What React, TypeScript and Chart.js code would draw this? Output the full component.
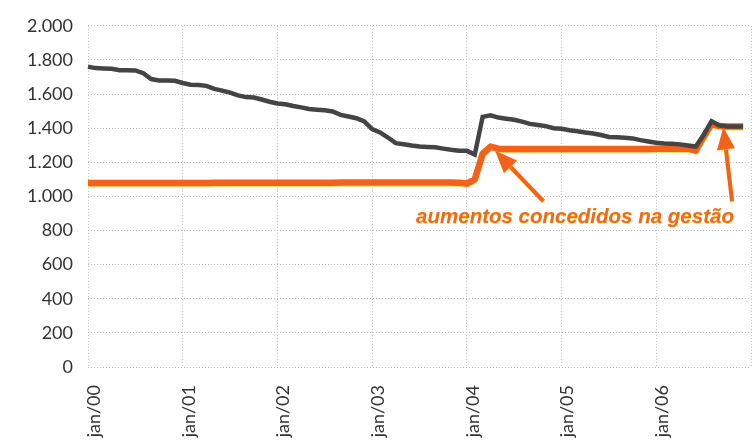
import { useEffect, useRef } from 'react';
import { Chart, registerables } from 'chart.js';

Chart.register(...registerables);

const MONTHS = ['jan', 'fev', 'mar', 'abr', 'mai', 'jun', 'jul', 'ago', 'set', 'out', 'nov', 'dez'];
const YEARS = ['00', '01', '02', '03', '04', '05', '06'];
const CATEGORIES: string[] = [...YEARS.flatMap((yy) => MONTHS.map((m) => `${m}/${yy}`)), 'jan/07'];

const Y_TICKS = [0, 200, 400, 600, 800, 1000, 1200, 1400, 1600, 1800, 2000];

const GRAY_SERIES: (number | null)[] = [
  1760, 1752, 1750, 1748, 1740, 1740, 1738, 1722, 1688, 1680, 1680, 1678,
  1665, 1655, 1653, 1648, 1630, 1620, 1608, 1592, 1582, 1580, 1568, 1555,
  1545, 1540, 1530, 1522, 1512, 1508, 1505, 1498, 1478, 1468, 1458, 1440,
  1395, 1375, 1345, 1312, 1306, 1298, 1292, 1290, 1288, 1280, 1273, 1268,
  1267, 1245, 1466, 1475, 1462, 1455, 1449, 1438, 1425, 1418, 1412, 1400,
  1396, 1388, 1382, 1375, 1369, 1360, 1348, 1346, 1344, 1340, 1330, 1322,
  1315, 1310, 1308, 1305, 1298, 1292, 1360, 1440, 1415, 1410, 1410, 1410,
  null,
];

const ORANGE_SERIES: (number | null)[] = [
  1078, 1078, 1078, 1078, 1078, 1078, 1078, 1078, 1078, 1078, 1078, 1078,
  1079, 1079, 1079, 1079, 1080, 1080, 1080, 1080, 1080, 1080, 1080, 1080,
  1080, 1080, 1080, 1080, 1080, 1080, 1080, 1080, 1081, 1081, 1081, 1081,
  1082, 1082, 1082, 1082, 1082, 1082, 1082, 1082, 1082, 1082, 1082, 1080,
  1075, 1100, 1250, 1292, 1280, 1278, 1278, 1278, 1278, 1278, 1278, 1278,
  1278, 1278, 1278, 1278, 1278, 1278, 1278, 1278, 1278, 1278, 1278, 1278,
  1279, 1279, 1279, 1280, 1280, 1268, 1350, 1425, 1412, 1410, 1410, 1410,
  null,
];

// annotation, in data units: [category index, value]
const NOTE_TEXT = 'aumentos concedidos na gestão';
const NOTE_ANCHOR: [number, number] = [61.7, 842];
const ARROWS: { from: [number, number]; to: [number, number] }[] = [
  { from: [57.7, 972], to: [51.6, 1267] },
  { from: [81.6, 972], to: [80.5, 1405] },
];

const ORANGE = '#f2621a';
const GRAY = '#444444';

const fmt = (v: number) => String(v).replace(/\B(?=(\d{3})+(?!\d))/g, '.');

const shadowPlugin = {
  id: 'orangeGlow',
  beforeDatasetDraw(chart: any, args: any) {
    if (args.index === 1) {
      const ctx = chart.ctx;
      ctx.save();
      ctx.shadowColor = 'rgba(255, 200, 0, 0.55)';
      ctx.shadowOffsetY = 1;
      ctx.shadowOffsetX = 0;
      ctx.shadowBlur = 0;
    }
  },
  afterDatasetDraw(chart: any, args: any) {
    if (args.index === 1) chart.ctx.restore();
  },
};

const notePlugin = {
  id: 'notes',
  afterDatasetsDraw(chart: any) {
    const { ctx, scales } = chart;
    const x = scales.x;
    const y = scales.y;
    ctx.save();
    ctx.shadowColor = 'rgba(255, 200, 0, 0.6)';
    ctx.shadowOffsetY = 1;
    ctx.shadowBlur = 0;
    ctx.strokeStyle = ORANGE;
    ctx.fillStyle = ORANGE;
    ctx.lineWidth = 4;
    ctx.lineCap = 'butt';
    for (const a of ARROWS) {
      const tx = x.getPixelForValue(a.from[0]);
      const ty = y.getPixelForValue(a.from[1]);
      const hx = x.getPixelForValue(a.to[0]);
      const hy = y.getPixelForValue(a.to[1]);
      const ang = Math.atan2(hy - ty, hx - tx);
      const headLen = 22;
      const headHalf = 9;
      const bx = hx - headLen * Math.cos(ang);
      const by = hy - headLen * Math.sin(ang);
      ctx.beginPath();
      ctx.moveTo(tx, ty);
      ctx.lineTo(bx + 4 * Math.cos(ang), by + 4 * Math.sin(ang));
      ctx.stroke();
      ctx.beginPath();
      ctx.moveTo(hx, hy);
      ctx.lineTo(bx - headHalf * Math.sin(ang), by + headHalf * Math.cos(ang));
      ctx.lineTo(bx + headHalf * Math.sin(ang), by - headHalf * Math.cos(ang));
      ctx.closePath();
      ctx.fill();
    }
    ctx.font = 'italic bold 20.5px "Liberation Sans", Arial, sans-serif';
    ctx.textAlign = 'center';
    ctx.textBaseline = 'alphabetic';
    ctx.fillStyle = '#ee6a1e';
    ctx.fillText(NOTE_TEXT, x.getPixelForValue(NOTE_ANCHOR[0]), y.getPixelForValue(NOTE_ANCHOR[1]));
    ctx.restore();
  },
};

export default function App() {
  const canvasRef = useRef<HTMLCanvasElement | null>(null);

  useEffect(() => {
    document.body.style.margin = '0';
    const canvas = canvasRef.current;
    if (!canvas) return;
    const gridColor = '#bdbdbd';
    const chart = new Chart(canvas, {
      type: 'line',
      data: {
        labels: CATEGORIES,
        datasets: [
          {
            data: GRAY_SERIES,
            borderColor: GRAY,
            borderWidth: 4.5,
            pointRadius: 0,
            tension: 0,
          },
          {
            data: ORANGE_SERIES,
            borderColor: ORANGE,
            borderWidth: 6.5,
            pointRadius: 0,
            tension: 0,
            borderJoinStyle: 'round',
          },
        ],
      },
      options: {
        animation: false,
        responsive: true,
        maintainAspectRatio: false,
        layout: { padding: { top: 16, right: 3, left: 0, bottom: 0 } },
        plugins: { legend: { display: false }, tooltip: { enabled: false } },
        scales: {
          x: {
            type: 'category',
            afterFit: (s: any) => {
              s.height = 73;
              s.paddingLeft = 0;
              s.paddingRight = 0;
            },
            grid: {
              drawTicks: false,
              color: (c: any) => (c.index % 12 === 0 ? gridColor : 'rgba(0,0,0,0)'),
              lineWidth: 1,
            },
            border: { display: false, dash: [1, 2] },
            ticks: {
              autoSkip: false,
              maxRotation: 90,
              minRotation: 90,
              padding: 18,
              labelOffset: 6,
              color: '#333333',
              font: { family: 'Lato, "DejaVu Sans", sans-serif', size: 18 },
              callback: (_v: any, i: number) => (i % 12 === 0 && i < CATEGORIES.length - 1 ? CATEGORIES[i] : ''),
            },
          },
          y: {
            min: Y_TICKS[0],
            max: Y_TICKS[Y_TICKS.length - 1],
            afterFit: (s: any) => {
              s.width = 88;
            },
            afterBuildTicks: (s: any) => {
              s.ticks = Y_TICKS.map((v) => ({ value: v }));
            },
            grid: { drawTicks: false, color: gridColor, lineWidth: 1 },
            border: { display: false, dash: [1, 2] },
            ticks: {
              padding: 15,
              color: '#333333',
              font: { family: 'Lato, "DejaVu Sans", sans-serif', size: 18 },
              callback: (v: any) => fmt(Number(v)),
            },
          },
        },
      },
      plugins: [shadowPlugin, notePlugin],
    } as any);
    return () => chart.destroy();
  }, []);

  return (
    <div style={{ width: 754, height: 440, position: 'relative', background: '#ffffff' }}>
      <canvas ref={canvasRef} />
    </div>
  );
}
